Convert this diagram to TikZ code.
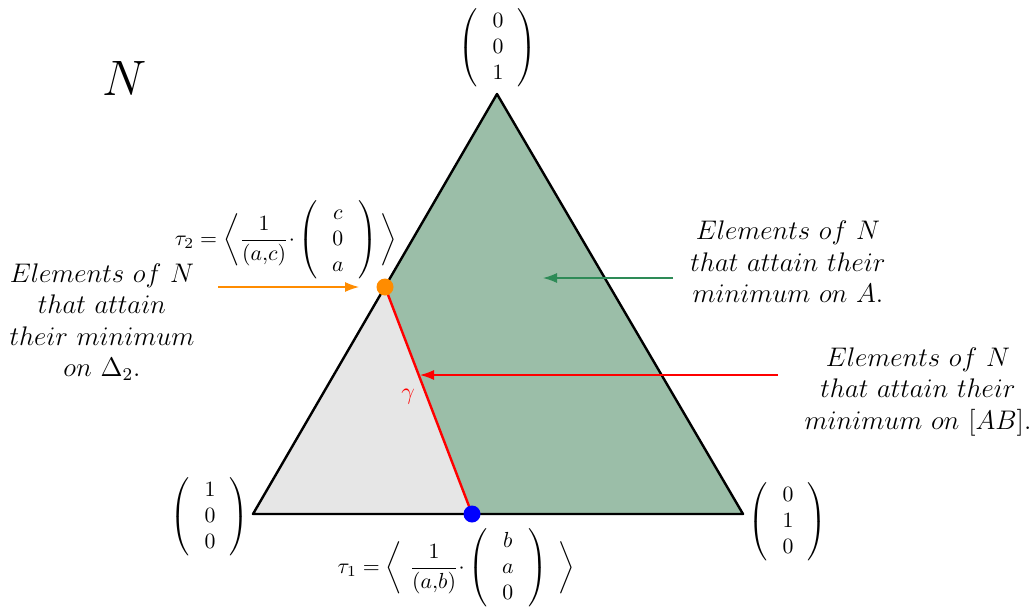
\documentclass[tikz,border=0pt]{standalone}
\usetikzlibrary{arrows.meta,positioning}
\usepackage{amsmath,amssymb}
\usepackage{xcolor}
\definecolor{regA}{RGB}{155,190,168}
\definecolor{regD}{RGB}{230,230,230}
\definecolor{ptorange}{RGB}{255,140,0}
\definecolor{arrgreen}{RGB}{46,139,87}
\newcommand{\colvec}[3]{\left(\,\begin{array}{c}#1\\#2\\#3\end{array}\,\right)}
\begin{document}
\begin{tikzpicture}[x=0.5pt, y=-0.5pt,
    lbl/.style={align=center, font=\large, inner sep=1pt, scale=1.12, transform shape},
    vec/.style={font=\normalsize, inner sep=0pt, scale=1.09, transform shape},
    dot/.style={circle, fill, minimum size=8.5pt, inner sep=0pt},
    arr/.style={-{Latex[length=7pt,width=5pt]}, semithick}
]
\useasboundingbox (0,0) rectangle (1034,611);
% Corners of the simplex and the two points tau_1, tau_2
\coordinate (P1) at (253,514);
\coordinate (P2) at (743,514);
\coordinate (P3) at (497,94);
\coordinate (T2) at (385,287);
\coordinate (T1) at (472,514);
% Regions
\fill[regD] (P1) -- (T2) -- (T1) -- cycle;
\fill[regA] (T2) -- (P3) -- (P2) -- (T1) -- cycle;
\draw[line width=1.2pt, line join=round] (P1) -- (P2) -- (P3) -- cycle;
\draw[red, line width=1.2pt] (T2) -- (T1);
\node[dot, ptorange] (t2) at (T2) {};
\node[dot, blue] (t1) at (T1) {};
% Vertex vectors
\node[vec] (e3) at (498,48) {$\colvec{0}{0}{1}$};
\node[vec] (e1) at (210,517) {$\colvec{1}{0}{0}$};
\node[vec] (e2) at (788,522) {$\colvec{0}{1}{0}$};
% Labels
\node (N) at (125,78) {\Huge $N$};
\node[vec] (tau2) at (286,240)
  {$\tau_2=\bigg\langle\dfrac{1}{(a{,}c)}{\cdot}\colvec{c}{0}{a}\bigg\rangle$};
\node[vec] (tau1) at (456,568)
  {$\tau_1=\bigg\langle\ \dfrac{1}{(a{,}b)}{\cdot}\colvec{b}{a}{0}\ \bigg\rangle$};
\node[red, font=\large] (gam) at (408,397) {$\gamma$};
\node[lbl] (txtD) at (102,322)
  {$Elements\ of\ N$\\$that\ attain$\\$their\ minimum$\\$on\ \Delta_2.$};
\node[lbl] (txtA) at (788,262)
  {$Elements\ of\ N$\\$that\ attain\ their$\\$minimum\ on\ A.$};
\node[lbl] (txtAB) at (918,392)
  {$Elements\ of\ N$\\$that\ attain\ their$\\$minimum\ on\ [AB].$};
% Arrows
\coordinate (oS) at (218,287);
\coordinate (oE) at (359,287);
\coordinate (gS) at (673,278);
\coordinate (gE) at (543,278);
\coordinate (rS) at (778,375);
\coordinate (rE) at (420,375);
\draw[arr, ptorange] (oS) -- (oE);
\draw[arr, arrgreen] (gS) -- (gE);
\draw[arr, red] (rS) -- (rE);
\end{tikzpicture}
\end{document}
